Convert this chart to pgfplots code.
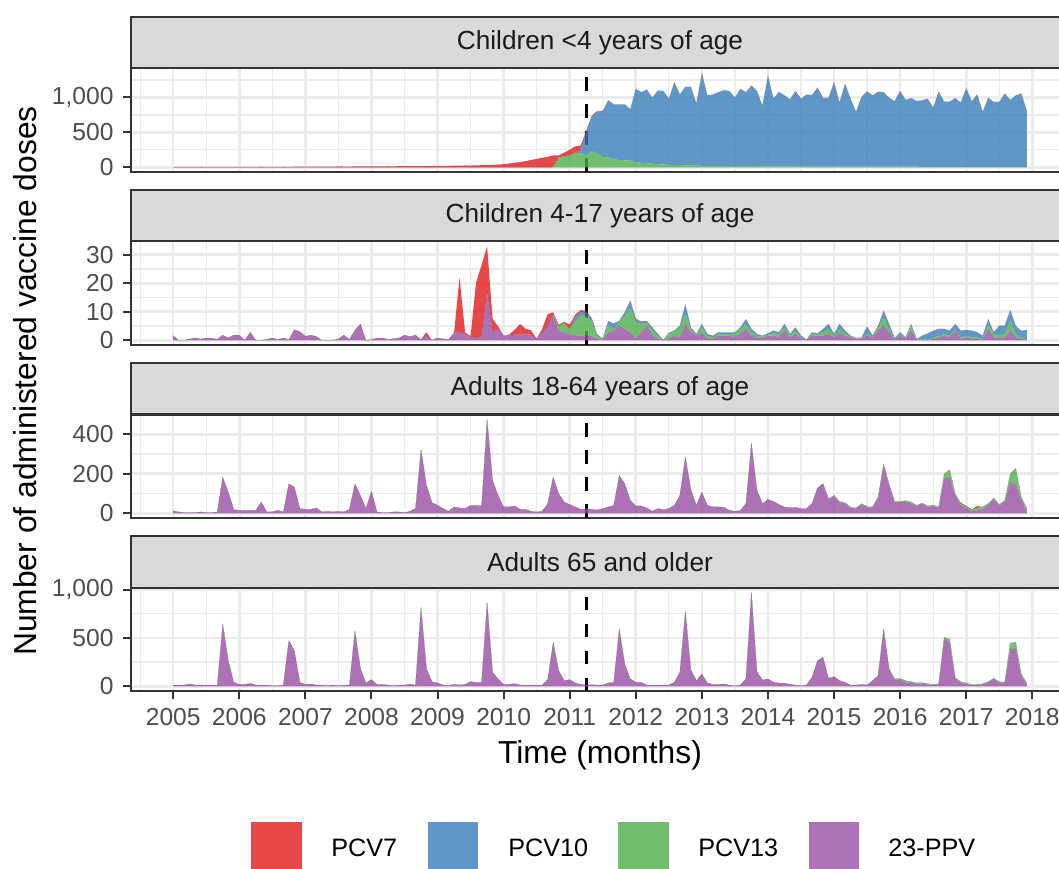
\documentclass[border=0pt]{standalone}
\usepackage{fontspec}
\setmainfont{Liberation Sans}
\usepackage{pgfplots}
\usepackage{pgfplotstable}
\pgfplotsset{compat=1.18}

% Set1 palette (drawn at 80% opacity)
\definecolor{cPCVseven}{HTML}{E41A1C}
\definecolor{cPCVten}{HTML}{377EB8}
\definecolor{cPCVthirteen}{HTML}{4DAF4A}
\definecolor{cPPV}{HTML}{984EA3}
\definecolor{gridc}{HTML}{EBEBEB}
\definecolor{frame}{HTML}{333333}
\definecolor{ticktext}{HTML}{4D4D4D}
\definecolor{striptext}{HTML}{1A1A1A}
\definecolor{stripfill}{HTML}{D9D9D9}

\newcommand\ticksize{\fontsize{12.3pt}{14pt}\selectfont}
\newcommand\legendsize{\fontsize{12.6pt}{14pt}\selectfont}
\newcommand\stripsize{\fontsize{13.1pt}{15pt}\selectfont}
\newcommand\titlesize{\fontsize{15.9pt}{18pt}\selectfont}

% monthly doses, m = months since January 2005
% Children <4 years of age
\pgfplotstableread{
m ppv p13 p10 p7
0 0 0 0 4
1 0 0 0 5
2 0 0 0 4
3 0 0 0 5
4 0 0 0 6
5 0 0 0 5
6 0 0 0 4
7 0 0 0 5
8 0 0 0 6
9 0 0 0 5
10 0 0 0 5
11 0 0 0 6
12 0 0 0 6
13 0 0 0 7
14 0 0 0 6
15 0 0 0 7
16 0 0 0 8
17 0 0 0 7
18 0 0 0 6
19 0 0 0 7
20 0 0 0 8
21 0 0 0 7
22 0 0 0 8
23 0 0 0 8
24 0 0 0 9
25 0 0 0 10
26 0 0 0 9
27 0 0 0 10
28 0 0 0 11
29 0 0 0 10
30 0 0 0 12
31 0 0 0 11
32 0 0 0 10
33 0 0 0 12
34 0 0 0 13
35 0 0 0 12
36 0 0 0 13
37 0 0 0 14
38 0 0 0 12
39 0 0 0 15
40 0 0 0 14
41 0 0 0 16
42 0 0 0 15
43 0 0 0 17
44 0 0 0 16
45 0 0 0 18
46 0 0 0 17
47 0 0 0 19
48 0 0 0 20
49 0 0 0 22
50 0 0 0 21
51 0 0 0 24
52 0 0 0 23
53 0 0 0 26
54 0 0 0 25
55 0 0 0 28
56 0 0 0 30
57 0 0 0 32
58 0 0 0 35
59 0 0 0 38
60 0 0 0 45
61 0 0 0 55
62 0 0 0 65
63 0 0 0 75
64 0 0 0 90
65 0 0 0 105
66 0 0 0 120
67 0 0 0 135
68 0 0 0 150
69 0 5 0 165
70 0 140 0 30
71 0 160 0 50
72 0 170 0 80
73 0 210 0 90
74 0 200 40 70
75 0 175 331 20
76 0 230 499 8
77 0 200 602 5
78 0 150 653 4
79 0 140 819 3
80 0 115 783 3
81 0 105 794 2
82 0 100 799 2
83 0 95 734 2
84 0 75 1046 1
85 0 65 1009 1
86 0 58 1054 1
87 0 50 945 0
88 0 45 1054 0
89 0 40 1052 0
90 0 36 945 0
91 0 33 1183 0
92 0 30 1012 0
93 0 28 1122 0
94 0 26 1124 0
95 0 24 891 0
96 0 22 1325 0
97 0 20 1008 0
98 0 20 1022 0
99 0 19 1056 0
100 0 18 1085 0
101 0 18 1074 0
102 0 17 978 0
103 0 16 1106 0
104 0 16 1059 0
105 0 15 1154 0
106 0 15 1077 0
107 0 14 864 0
108 0 13 1297 0
109 0 13 968 0
110 0 12 1068 0
111 0 12 1016 0
112 0 12 960 0
113 0 11 1081 0
114 0 11 970 0
115 0 11 1031 0
116 0 10 1023 0
117 0 10 1131 0
118 0 10 985 0
119 0 10 985 0
120 0 10 1206 0
121 0 10 915 0
122 0 9 1188 0
123 0 9 972 0
124 0 9 784 0
125 0 9 1000 0
126 0 9 1076 0
127 0 9 1019 0
128 0 8 1072 0
129 0 8 1067 0
130 0 8 987 0
131 0 8 936 0
132 0 8 1084 0
133 0 8 954 0
134 0 8 983 0
135 0 8 940 0
136 0 7 951 0
137 0 7 974 0
138 0 7 847 0
139 0 7 1073 0
140 0 7 932 0
141 0 7 932 0
142 0 7 984 0
143 0 7 918 0
144 0 7 1124 0
145 0 6 938 0
146 0 6 1036 0
147 0 6 787 0
148 0 6 989 0
149 0 6 929 0
150 0 6 929 0
151 0 6 1050 0
152 0 6 956 0
153 0 6 1022 0
154 0 6 1050 0
155 0 6 801 0
}\tabUnderFour

% Children 4-17 years of age
\pgfplotstableread{
m ppv p13 p10 p7
0 1.6 0 0 0
1 0 0 0 0
2 0 0 0 0
3 0.5 0 0 0
4 0.8 0 0 0
5 0.4 0 0 0
6 0.8 0 0 0
7 0.8 0 0 0
8 0.3 0 0 0
9 1.8 0 0 0
10 0.8 0 0 0
11 1.8 0 0 0
12 1.8 0 0 0
13 0 0 0 0
14 2.8 0 0 0
15 0 0 0 0
16 0 0 0 0
17 0.3 0 0 0
18 0.8 0 0 0
19 0.2 0 0 0
20 0.8 0 0 0
21 0.2 0 0 0
22 3.7 0 0 0
23 3.0 0 0 0
24 1.4 0 0 0
25 1.8 0 0 0
26 1.3 0 0 0
27 0 0 0 0
28 0 0 0 0
29 0 0 0 0
30 0.5 0 0 0
31 1.8 0 0 0
32 0.3 0 0 0
33 3.5 0 0 0
34 5.7 0 0 0
35 0 0 0 0
36 0.2 0 0 0
37 0.8 0 0 0
38 0.8 0 0 0
39 0.3 0 0 0
40 0.5 0 0 0
41 0.8 0 0 0
42 1.8 0 0 0
43 1.3 0 0 0
44 1.8 0 0 0
45 0.3 0 0 0
46 1.6 0 0 1.2
47 0 0 0 0
48 0.8 0 0 0
49 0.5 0 0 0
50 0.3 0 0 0
51 2.6 0 0 0
52 3.0 0 0 19
53 2.2 0 0 0.6
54 1.2 0 0 0.3
55 0.8 0 0 19.4
56 1.0 0 0 25.5
57 16.7 0 0 16.3
58 2.8 0 0 4.7
59 4.0 0 0 1.0
60 1.5 0 0 0
61 1.6 0 0 0.4
62 2.0 0 0 1.7
63 2.0 0 0 3.7
64 2.0 0 0 2.0
65 2.0 0 0 1.5
66 0.3 0 0 0.2
67 2.8 0 0 1.2
68 5.0 0 0 4.2
69 9.2 0 0 0.6
70 3.3 1.7 0 0.5
71 2.8 3.2 0 0.5
72 2.0 2.0 0 1.5
73 1.8 4.7 1.5 1.0
74 1.6 7.1 1.3 0.6
75 1.6 6.9 1.3 0.4
76 1.4 5.1 1.0 0.3
77 0.4 1.2 0.4 0.1
78 0.3 0.2 0.1 0
79 2.5 2.9 1.2 0.1
80 3.4 0.5 2.0 0
81 5.1 1.3 0.4 0
82 3.9 4.7 1.2 0
83 2.8 8.7 2.3 0.2
84 0.5 5.8 1.1 0.2
85 2.8 2.9 0.6 0.3
86 5.1 1.1 0.4 0.2
87 1.6 1.8 1.1 0
88 0.5 1.1 0.6 0
89 0 0.1 0.1 0
90 0.5 1.9 0.2 0
91 1.6 1.2 0.6 0
92 1.0 3.5 0.6 0
93 5.7 3.5 3.4 0
94 2.8 1.1 0.6 0
95 1.6 0 0.6 0
96 2.5 2.0 1.1 0
97 0.5 1.1 0.6 0
98 0.5 0.5 0.6 0
99 1.6 0.6 0.6 0
100 1.6 0.6 0.6 0
101 1.6 0.6 0.6 0
102 1.0 1.2 0.6 0
103 2.2 1.7 0.6 0
104 3.9 1.7 1.8 0
105 1.6 1.2 1.2 0
106 1.0 0.6 0.6 0
107 0.8 0.5 0.3 0
108 1.6 0.4 0.4 0
109 1.6 0.8 1.0 0
110 1.2 1.0 0.6 0
111 3.4 1.1 1.2 0
112 1.0 0.6 0.6 0
113 2.2 1.2 1.1 0
114 0.7 0.3 0.6 0
115 0.1 0.1 0.1 0
116 1.6 0.6 0.6 0
117 1.6 0.4 0.4 0
118 1.6 1.2 1.1 0
119 2.2 1.8 1.7 0
120 1.0 0.6 0.6 0
121 2.4 1.5 1.8 0
122 1.6 0.6 1.2 0
123 1.0 0.3 0.3 0
124 0.6 0.2 0 0
125 0.6 0.2 0.2 0
126 1.6 0.6 2.6 0
127 1.0 0.3 0.3 0
128 3.4 1.1 0.6 0
129 5.1 2.9 2.0 0.4
130 2.8 1.2 1.6 0.2
131 0.3 0.3 0.2 0
132 1.6 0.6 0.6 0
133 0.5 0.3 0.2 0
134 3.4 1.7 0.6 0
135 0.2 0.1 0.1 0
136 0.1 0.1 1.4 0
137 0.1 0.1 2.2 0
138 0.5 0.5 2.3 0
139 0.8 0.8 2.4 0
140 1.6 0.6 1.8 0
141 1.0 0.6 1.8 0
142 3.4 0.6 1.7 0
143 0.5 0.5 2.4 0
144 1.0 0.6 2.0 0
145 0.5 0.5 2.4 0
146 0.5 0.5 1.8 0
147 0.1 0.4 1.1 0
148 3.9 1.7 1.8 0
149 1.0 1.2 0.6 0
150 1.0 1.2 2.9 0
151 1.0 1.2 2.9 0
152 3.4 3.5 3.7 0
153 1.0 1.2 2.8 0
154 0.5 0.3 2.5 0
155 0.1 0.3 3.3 0
}\tabFourSeventeen

% Adults 18-64 years of age
\pgfplotstableread{
m ppv p13 p10 p7
0 12 0 0 0
1 7 0 0 0
2 3.5 0 0 0
3 3.5 0 0 0
4 3.5 0 0 0
5 7 0 0 0
6 3.5 0 0 0
7 3.5 0 0 0
8 7 0 0 0
9 183 0 0 0
10 107 0 0 0
11 19 0 0 0
12 15 0 0 0
13 15 0 0 0
14 15 0 0 0
15 15 0 0 0
16 57 0 0 0
17 7 0 0 0
18 7 0 0 0
19 15 0 0 0
20 7 0 0 0
21 149 0 0 0
22 132 0 0 0
23 24 0 0 0
24 20 0 0 0
25 20 0 0 0
26 27 0 0 0
27 7 0 0 0
28 10 0 0 0
29 7 0 0 0
30 10 0 0 0
31 7 0 0 0
32 20 0 0 0
33 149 0 0 0
34 90 0 0 0
35 24 0 0 0
36 111 0 0 0
37 7 0 0 0
38 3.5 0 0 0
39 3.5 0 0 0
40 7 0 0 0
41 7 0 0 0
42 3.5 0 0 0
43 10 0 0 0
44 24 0 0 0
45 322 0 0 0
46 141 0 0 0
47 54 0 0 0
48 40 0 0 0
49 24 0 0 0
50 10 0 0 0
51 32 0 0 0
52 27 0 0 0
53 24 0 0 0
54 40 0 0 0
55 40 0 0 0
56 37 0 0 0
57 476 0 0 0
58 166 0 0 0
59 90 0 0 0
60 32 0 0 0
61 32 0 0 0
62 37 0 0 0
63 20 0 0 0
64 20 0 0 0
65 10 0 0 0
66 7 0 0 0
67 10 0 0 0
68 49 0 0 0
69 183 0 0 0
70 99 0 0 0
71 57 0 0 0
72 44 0 0 0
73 32 0 0 0
74 20 0 0 0
75 22 0 0 0
76 20 0 0 0
77 17 0 0 0
78 24 0 0 0
79 32 0 0 0
80 40 0 0 0
81 191 0 0 0
82 149 0 0 0
83 65 0 0 0
84 37 0 0 0
85 37 0 0 0
86 27 0 0 0
87 10 0 0 0
88 24 0 0 0
89 18 0 0 0
90 24 0 0 0
91 40 0 0 0
92 90 0 0 0
93 286 0 0 0
94 120 0 0 0
95 40 0 0 0
96 107 0 0 0
97 40 0 0 0
98 32 0 0 0
99 32 0 0 0
100 30 0 0 0
101 15 0 0 0
102 10 0 0 0
103 15 0 0 0
104 49 0 0 0
105 355 0 0 0
106 116 0 0 0
107 49 0 0 0
108 70 0 0 0
109 60 0 0 0
110 44 0 0 0
111 32 0 0 0
112 28 0 0 0
113 30 0 0 0
114 24 0 0 0
115 24 0 0 0
116 49 0 0 0
117 127 0 0 0
118 149 2 0 0
119 70 3 0 0
120 87 4 0 0
121 54 5 0 0
122 49 5 0 0
123 27 4 0 0
124 24 4 0 0
125 44 5 0 0
126 30 4 0 0
127 30 4 0 0
128 77 5 0 0
129 245 5 0 0
130 141 5 0 0
131 57 3 0 0
132 57 3 0 0
133 57 7 0 0
134 49 8 0 0
135 37 3 0 0
136 49 3 0 0
137 32 5 0 0
138 37 5 0 0
139 27 5 0 0
140 174 25 0 0
141 183 38 0 0
142 90 9 0 0
143 40 9 0 5
144 27 8 0 3
145 10 10 0 0
146 15 12 0 10
147 20 12 0 0
148 40 9 0 0
149 74 3 0 0
150 37 7 0 0
151 57 8 0 0
152 154 45 0 0
153 149 76 0 3
154 65 17 0 0
155 7 17 0 0
}\tabAdults

% Adults 65 and older
\pgfplotstableread{
m ppv p13 p10 p7
0 13 0 0 0
1 13 0 0 0
2 13 0 0 0
3 24 0 0 0
4 13 0 0 0
5 13 0 0 0
6 13 0 0 0
7 13 0 0 0
8 13 0 0 0
9 645 0 0 0
10 265 0 0 0
11 41 0 0 0
12 20 0 0 0
13 20 0 0 0
14 31 0 0 0
15 13 0 0 0
16 13 0 0 0
17 13 0 0 0
18 7 0 0 0
19 7 0 0 0
20 13 0 0 0
21 472 0 0 0
22 369 0 0 0
23 41 0 0 0
24 20 0 0 0
25 24 0 0 0
26 13 0 0 0
27 13 0 0 0
28 7 0 0 0
29 13 0 0 0
30 7 0 0 0
31 13 0 0 0
32 13 0 0 0
33 576 0 0 0
34 186 0 0 0
35 34 0 0 0
36 69 0 0 0
37 20 0 0 0
38 20 0 0 0
39 13 0 0 0
40 7 0 0 0
41 13 0 0 0
42 13 0 0 0
43 24 0 0 0
44 13 0 0 0
45 817 0 0 0
46 179 0 0 0
47 48 0 0 0
48 34 0 0 0
49 13 0 0 0
50 7 0 0 0
51 20 0 0 0
52 13 0 0 0
53 20 0 0 0
54 48 0 0 0
55 41 0 0 0
56 41 0 0 0
57 869 0 0 0
58 145 0 0 0
59 76 0 0 0
60 20 0 0 0
61 20 0 0 0
62 27 0 0 0
63 13 0 0 0
64 13 0 0 0
65 13 0 0 0
66 13 0 0 0
67 13 0 0 0
68 69 0 0 0
69 455 0 0 0
70 162 0 0 0
71 58 0 0 0
72 69 0 0 0
73 34 0 0 0
74 20 0 0 0
75 13 0 0 0
76 15 0 0 0
77 13 0 0 0
78 13 0 0 0
79 34 0 0 0
80 41 0 0 0
81 593 0 0 0
82 231 0 0 0
83 76 0 0 0
84 41 0 0 0
85 41 0 0 0
86 13 0 0 0
87 13 0 0 0
88 13 0 0 0
89 13 0 0 0
90 13 0 0 0
91 41 0 0 0
92 145 0 0 0
93 776 0 0 0
94 170 0 0 0
95 58 0 0 0
96 127 0 0 0
97 34 0 0 0
98 20 0 0 0
99 20 0 0 0
100 24 0 0 0
101 13 0 0 0
102 7 0 0 0
103 13 0 0 0
104 76 0 0 0
105 973 0 0 0
106 151 0 0 0
107 65 0 0 0
108 76 0 0 0
109 41 0 0 0
110 34 0 0 0
111 34 0 0 0
112 20 0 0 0
113 13 0 0 0
114 7 0 0 0
115 13 0 0 0
116 93 0 0 0
117 265 0 0 0
118 300 0 0 0
119 82 0 0 0
120 100 0 0 0
121 58 0 0 0
122 41 0 0 0
123 13 0 0 0
124 13 0 0 0
125 20 0 0 0
126 13 0 0 0
127 58 0 0 0
128 110 0 0 0
129 593 0 0 0
130 179 0 0 0
131 65 11 0 0
132 69 13 0 0
133 41 17 0 0
134 34 14 0 0
135 27 7 0 0
136 27 11 0 0
137 20 7 0 0
138 13 7 0 0
139 20 7 0 0
140 490 16 0 0
141 455 34 0 0
142 82 7 0 0
143 34 14 0 0
144 24 10 0 0
145 13 7 0 0
146 13 7 0 0
147 20 7 0 0
148 41 7 0 0
149 76 7 0 0
150 41 7 0 0
151 34 7 0 0
152 386 62 0 0
153 386 69 0 0
154 110 17 0 0
155 13 21 0 0
}\tabSenior

\pgfplotsset{
  panel/.style={
    scale only axis, width=469.5pt, height=51.75pt,
    xmin=2004.354, xmax=2018.563,
    stack plots=y,
    grid=both,
    major grid style={draw=gridc, line width=1.3pt},
    minor grid style={draw=gridc, line width=0.65pt},
    xtick={2005,2006,...,2018},
    minor xtick={2004.5,2005.5,...,2018.5},
    tick align=outside, tick pos=left,
    major tick length=3.8pt, minor tick length=0pt,
    every tick/.style={draw=frame, line width=1pt},
    axis line style={draw=frame, line width=1pt},
    yticklabel style={font=\ticksize, text=ticktext, anchor=east, inner sep=0pt, xshift=-4.5pt},
    xticklabel style={font=\ticksize, text=ticktext, anchor=north, inner sep=0pt, yshift=-4.8pt},
  },
  noxlabels/.style={xticklabels={}, xtick style={draw=none}},
  areaPPV/.style={fill=cPPV, fill opacity=0.8, draw=none},
  areaThirteen/.style={fill=cPCVthirteen, fill opacity=0.8, draw=none},
  areaTen/.style={fill=cPCVten, fill opacity=0.8, draw=none},
  areaSeven/.style={fill=cPCVseven, fill opacity=0.8, draw=none},
}
\tikzset{launch/.style={black, line width=1.3pt, dash pattern=on 6.75pt off 6.75pt}}

% stacks the four vaccines of one table, 23-PPV at the bottom
\newcommand\stackareas[1]{%
  \addplot[areaPPV] table[x expr=2005+\thisrow{m}/12, y=ppv] {#1} \closedcycle;
  \addplot[areaThirteen] table[x expr=2005+\thisrow{m}/12, y=p13] {#1} \closedcycle;
  \addplot[areaTen] table[x expr=2005+\thisrow{m}/12, y=p10] {#1} \closedcycle;
  \addplot[areaSeven] table[x expr=2005+\thisrow{m}/12, y=p7] {#1} \closedcycle;
}

\begin{document}
\begin{tikzpicture}

% Children <4 years of age
\begin{axis}[panel, noxlabels, at={(65.25pt,348pt)}, anchor=south west,
  ymin=-67.35, ymax=1414.35,
  ytick={0,500,1000}, yticklabels={0,500,{1,000}}, minor ytick={250,750,1250}]
  \stackareas{\tabUnderFour}
  \draw[launch] (axis cs:2011.25,-67.35) -- (axis cs:2011.25,1414.35);
\end{axis}

% Children 4-17 years of age
\begin{axis}[panel, noxlabels, at={(65.25pt,261.5pt)}, anchor=south west,
  ymin=-1.65, ymax=34.65,
  ytick={0,10,20,30}, yticklabels={0,10,20,30}, minor ytick={5,15,25}]
  \stackareas{\tabFourSeventeen}
  \draw[launch] (axis cs:2011.25,-1.65) -- (axis cs:2011.25,34.65);
\end{axis}

% Adults 18-64 years of age
\begin{axis}[panel, noxlabels, at={(65.25pt,175pt)}, anchor=south west,
  ymin=-23.8, ymax=499.8,
  ytick={0,200,400}, yticklabels={0,200,400}, minor ytick={100,300}]
  \stackareas{\tabAdults}
  \draw[launch] (axis cs:2011.25,-23.8) -- (axis cs:2011.25,499.8);
\end{axis}

% Adults 65 and older
\begin{axis}[panel, at={(65.25pt,88.5pt)}, anchor=south west,
  ymin=-48.65, ymax=1021.65,
  ytick={0,500,1000}, yticklabels={0,500,{1,000}}, minor ytick={250,750},
  xticklabels={2005,2006,2007,2008,2009,2010,2011,2012,2013,2014,2015,2016,2017,2018}]
  \stackareas{\tabSenior}
  \draw[launch] (axis cs:2011.25,-48.65) -- (axis cs:2011.25,1021.65);
\end{axis}

% facet strips
\begin{scope}[fill=stripfill, draw=frame, line width=1pt]
  \filldraw (65.25pt,399.75pt) rectangle (534.75pt,425.5pt);
  \filldraw (65.25pt,313.25pt) rectangle (534.75pt,339pt);
  \filldraw (65.25pt,226.75pt) rectangle (534.75pt,252.5pt);
  \filldraw (65.25pt,140.25pt) rectangle (534.75pt,166pt);
\end{scope}
\begin{scope}[every node/.style={font=\stripsize, text=striptext, inner sep=0pt}]
  \node at (300pt,412.6pt) {Children <4 years of age};
  \node at (300pt,326.1pt) {Children 4-17 years of age};
  \node at (300pt,239.6pt) {Adults 18-64 years of age};
  \node at (300pt,153.1pt) {Adults 65 and older};
\end{scope}

% axis titles
\node[font=\titlesize, rotate=90, inner sep=0pt] at (12.5pt,243.5pt) {Number of administered vaccine doses};
\node[font=\titlesize, inner sep=0pt] at (300pt,56.5pt) {Time (months)};

% legend
\begin{scope}[every node/.style={font=\legendsize, inner sep=0pt, anchor=west}]
  \fill[cPCVseven, opacity=0.8] (125.5pt,23pt) rectangle (151pt,-3pt);
  \node at (165.5pt,10pt) {PCV7};
  \fill[cPCVten, opacity=0.8] (214pt,23pt) rectangle (239pt,-3pt);
  \node at (254pt,10pt) {PCV10};
  \fill[cPCVthirteen, opacity=0.8] (309pt,23pt) rectangle (334.5pt,-3pt);
  \node at (349pt,10pt) {PCV13};
  \fill[cPPV, opacity=0.8] (404.5pt,23pt) rectangle (429.5pt,-3pt);
  \node at (444pt,10pt) {23-PPV};
\end{scope}

\pgfresetboundingbox
\path[use as bounding box] (0,0) rectangle (529.5pt,434pt);
\end{tikzpicture}
\end{document}
